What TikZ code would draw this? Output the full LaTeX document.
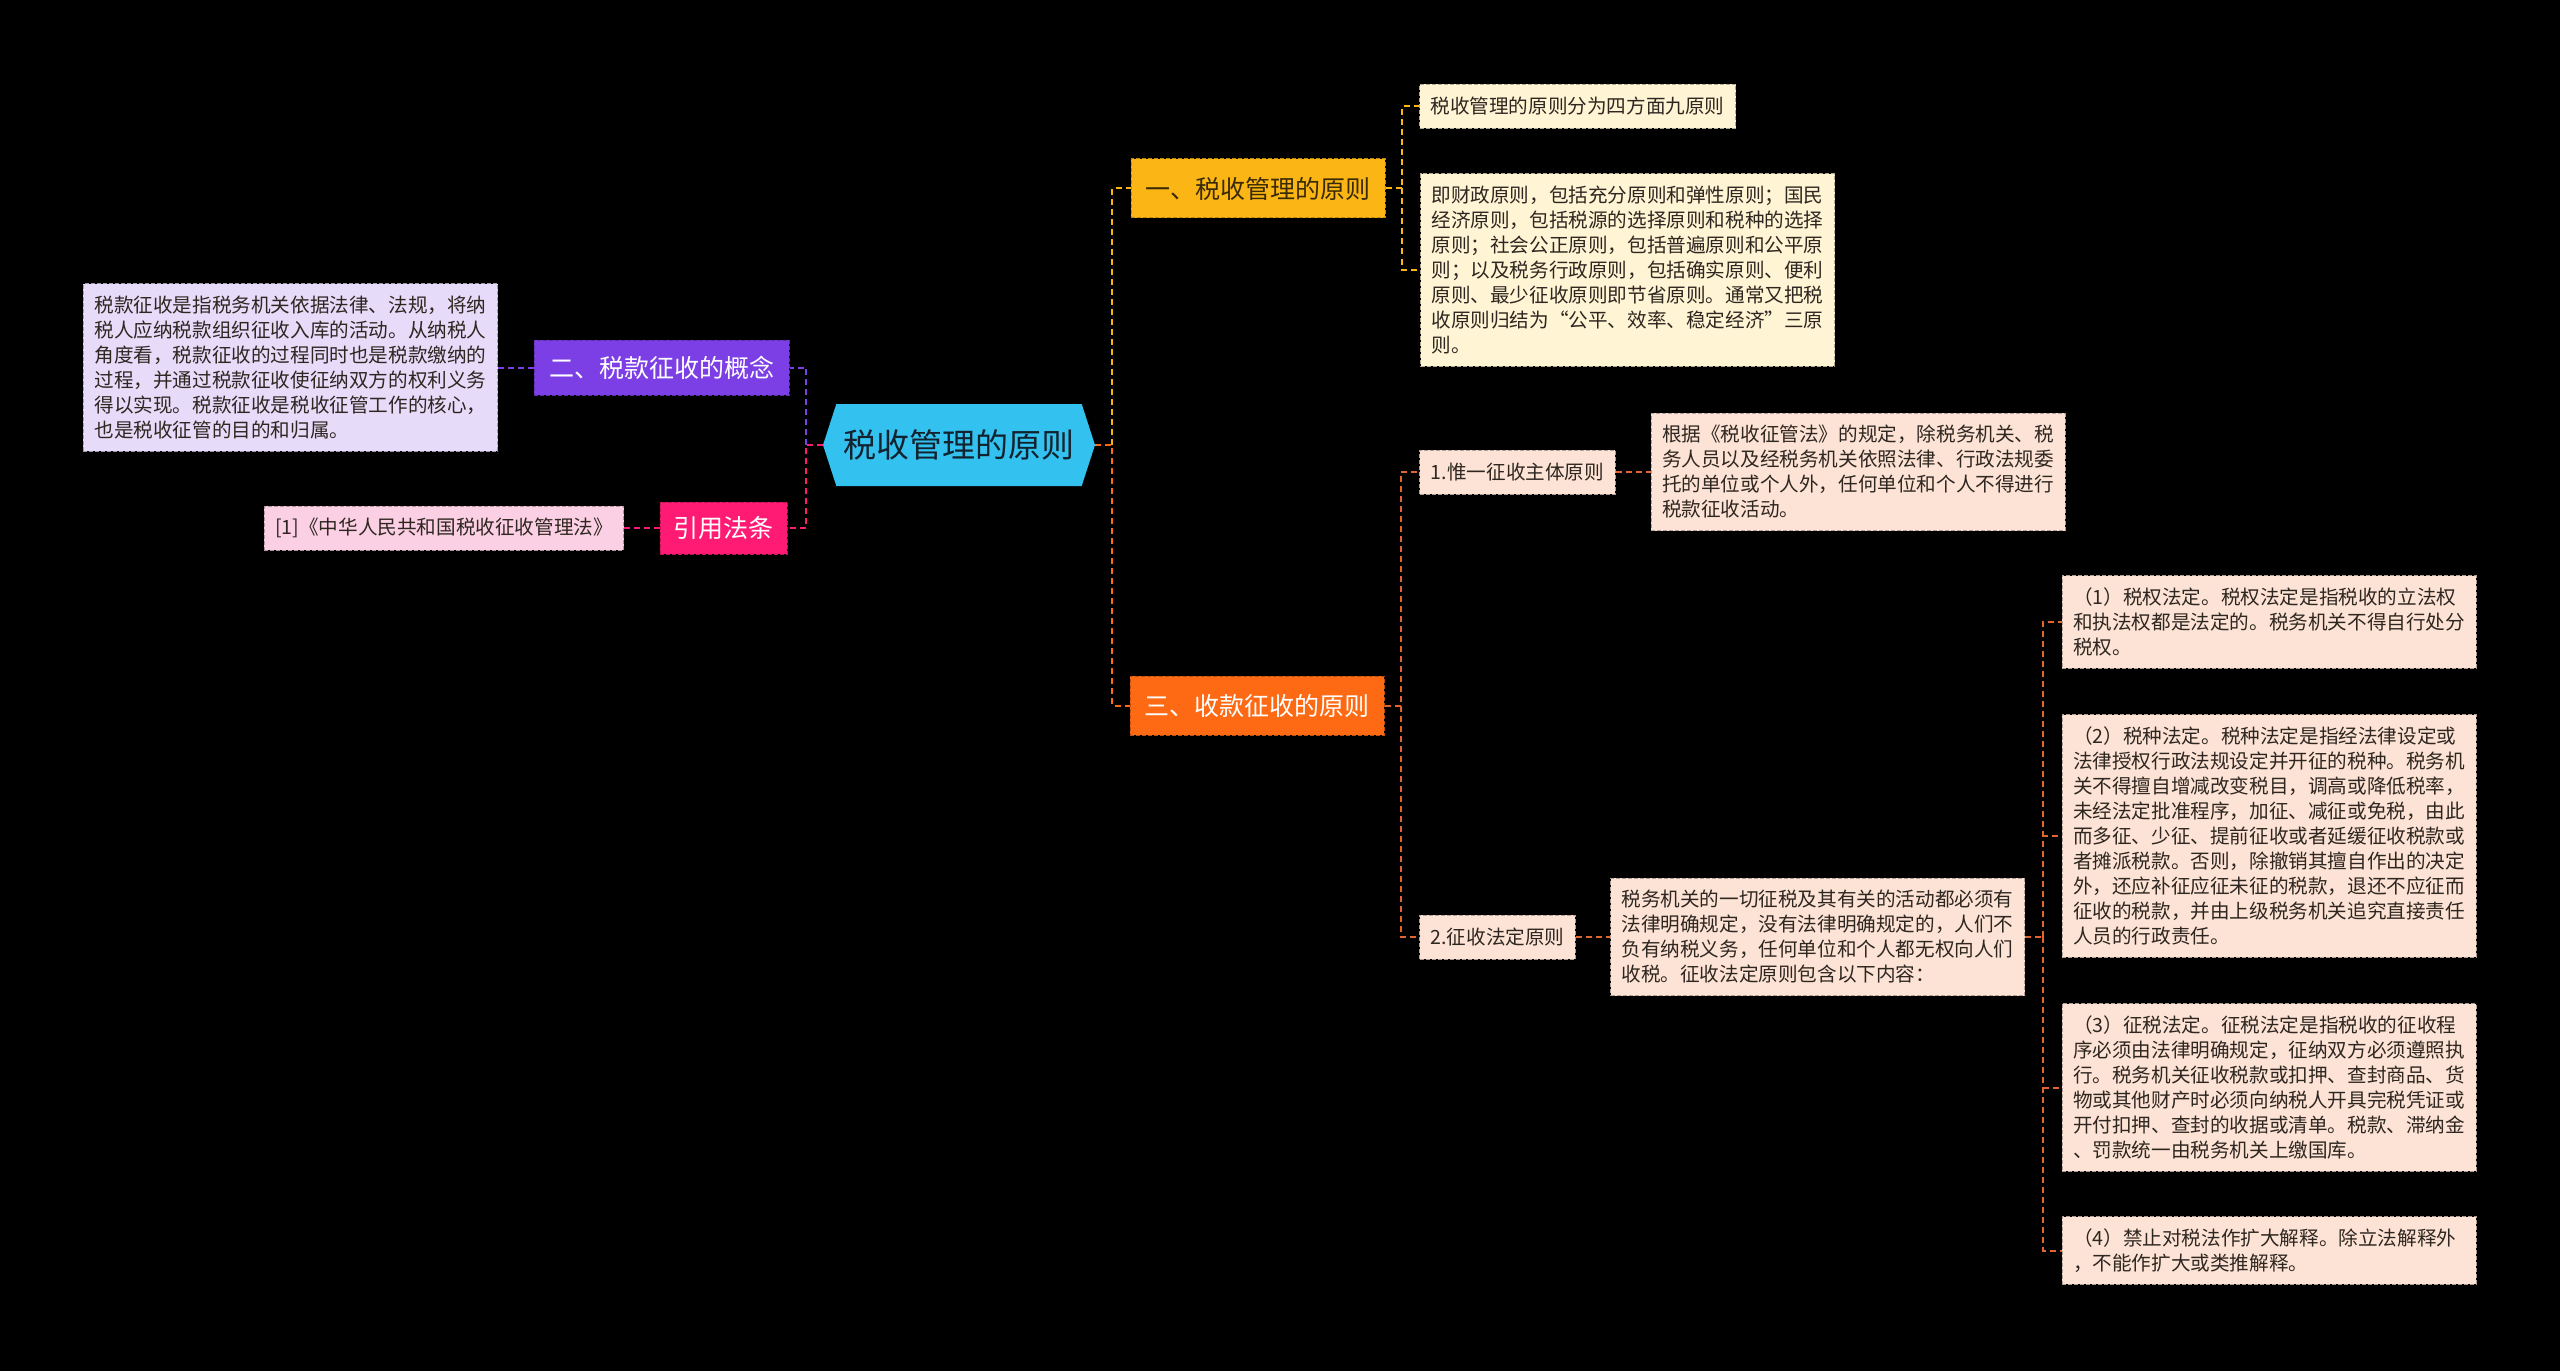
\documentclass[tikz,border=0pt]{standalone}
\usepackage{fontspec}
\setmainfont{Noto Sans CJK SC}
\usetikzlibrary{shapes.symbols}

\definecolor{rootblue}{HTML}{33C1F0}
\definecolor{rootink}{HTML}{12222E}
\definecolor{gold}{HTML}{FBB615}
\definecolor{goldink}{HTML}{3A2A05}
\definecolor{cream}{HTML}{FFF4D4}
\definecolor{purplebox}{HTML}{7C3FE6}
\definecolor{lavender}{HTML}{E7DBFA}
\definecolor{rose}{HTML}{FF1B74}
\definecolor{pinkleaf}{HTML}{FCD0E4}
\definecolor{orangebox}{HTML}{FE6A14}
\definecolor{peach}{HTML}{FDE3D5}
\definecolor{rustline}{HTML}{E2652E}
\definecolor{leafink}{HTML}{2E2620}

\tikzset{
  rootnode/.style={shape=signal, signal to=east and west, signal pointer angle=144,
    fill=rootblue, text=rootink, minimum width=272bp, minimum height=82bp,
    inner sep=0pt, font=\fontsize{33bp}{38bp}\selectfont},
  topic/.style={fill=#1, draw=#1!75!black, dash pattern=on 4bp off 2bp, line width=1bp,
    minimum height=57bp, inner xsep=12bp, font=\fontsize{25bp}{30bp}\selectfont},
  leaf/.style={fill=#1, draw=#1!70!black, dash pattern=on 4bp off 2bp, line width=1bp,
    inner xsep=11bp, inner ysep=12bp, minimum height=44bp, align=left, text=leafink,
    font=\fontsize{19.6bp}{25bp}\selectfont},
  link/.style={draw=#1, dash pattern=on 6bp off 4bp, line width=2bp}
}

\begin{document}
\begin{tikzpicture}[x=1bp,y=-1bp]
  \fill[black] (0,0) rectangle (2560,1371);
  \useasboundingbox (0,0) rectangle (2560,1371);

  \node[rootnode] (root) at (959,445) {税收管理的原则};

  % right side
  \node[topic=gold, text=goldink, minimum width=254bp, minimum height=59bp] (tax) at (1258,188.5) {一、税收管理的原则};
  \node[leaf=cream] (taxa) at (1577.5,106.5) {税收管理的原则分为四方面九原则};
  \node[leaf=cream, text width=392bp] (taxb) at (1627.5,270) {即财政原则，包括充分原则和弹性原则；国民\\经济原则，包括税源的选择原则和税种的选择\\原则；社会公正原则，包括普遍原则和公平原\\则；以及税务行政原则，包括确实原则、便利\\原则、最少征收原则即节省原则。通常又把税\\收原则归结为“公平、效率、稳定经济”三原\\则。};

  \node[topic=orangebox, text=white, minimum width=254bp, minimum height=59bp] (collect) at (1257,705.5) {三、收款征收的原则};
  \node[leaf=peach] (sole) at (1517.5,472) {1.惟一征收主体原则};
  \node[leaf=peach, text width=392bp] (soletext) at (1858,472) {根据《税收征管法》的规定，除税务机关、税\\务人员以及经税务机关依照法律、行政法规委\\托的单位或个人外，任何单位和个人不得进行\\税款征收活动。};
  \node[leaf=peach] (legal) at (1497.5,937) {2.征收法定原则};
  \node[leaf=peach, text width=392bp] (legaltext) at (1817.5,937) {税务机关的一切征税及其有关的活动都必须有\\法律明确规定，没有法律明确规定的，人们不\\负有纳税义务，任何单位和个人都无权向人们\\收税。征收法定原则包含以下内容：};
  \node[leaf=peach, text width=392bp] (item1) at (2269,622) {（1）税权法定。税权法定是指税收的立法权\\和执法权都是法定的。税务机关不得自行处分\\税权。};
  \node[leaf=peach, text width=392bp] (item2) at (2269,836) {（2）税种法定。税种法定是指经法律设定或\\法律授权行政法规设定并开征的税种。税务机\\关不得擅自增减改变税目，调高或降低税率，\\未经法定批准程序，加征、减征或免税，由此\\而多征、少征、提前征收或者延缓征收税款或\\者摊派税款。否则，除撤销其擅自作出的决定\\外，还应补征应征未征的税款，退还不应征而\\征收的税款，并由上级税务机关追究直接责任\\人员的行政责任。};
  \node[leaf=peach, text width=392bp] (item3) at (2269,1087.5) {（3）征税法定。征税法定是指税收的征收程\\序必须由法律明确规定，征纳双方必须遵照执\\行。税务机关征收税款或扣押、查封商品、货\\物或其他财产时必须向纳税人开具完税凭证或\\开付扣押、查封的收据或清单。税款、滞纳金\\、罚款统一由税务机关上缴国库。};
  \node[leaf=peach, text width=392bp] (item4) at (2269,1250.5) {（4）禁止对税法作扩大解释。除立法解释外\\，不能作扩大或类推解释。};

  % left side
  \node[topic=purplebox, text=white, minimum width=255bp, minimum height=55bp] (concept) at (661.5,367.5) {二、税款征收的概念};
  \node[leaf=lavender, text width=392bp] (concepttext) at (290.5,367.5) {税款征收是指税务机关依据法律、法规，将纳\\税人应纳税款组织征收入库的活动。从纳税人\\角度看，税款征收的过程同时也是税款缴纳的\\过程，并通过税款征收使征纳双方的权利义务\\得以实现。税款征收是税收征管工作的核心，\\也是税收征管的目的和归属。};
  \node[topic=rose, text=white, minimum width=127bp, minimum height=52bp] (law) at (723.5,528) {引用法条};
  \node[leaf=pinkleaf] (lawref) at (444,528) {[1]《中华人民共和国税收征收管理法》};

  % connectors
  \coordinate (rj) at (1112,445);
  \coordinate (lj) at (806,445);
  \coordinate (tj) at (1402,188.5);
  \coordinate (cj) at (1401,705.5);
  \coordinate (qj) at (2043,937);
  \draw[link=orangebox] (root.east) -- (rj) |- (collect.west);
  \draw[link=gold] (rj) |- (tax.west);
  \draw[link=rose] (root.west) -- (lj) |- (law.east);
  \draw[link=purplebox] (lj) |- (concept.east);
  \draw[link=purplebox] (concept.west) -- (concepttext.east);
  \draw[link=rose] (law.west) -- (lawref.east);
  \draw[link=gold] (tax.east) -- (tj) |- (taxa.west);
  \draw[link=gold] (tj) |- (taxb.west);
  \draw[link=rustline] (collect.east) -- (cj) |- (sole.west);
  \draw[link=rustline] (cj) |- (legal.west);
  \draw[link=rustline] (sole.east) -- (soletext.west);
  \draw[link=rustline] (legal.east) -- (legaltext.west);
  \draw[link=rustline] (legaltext.east) -- (qj);
  \foreach \n in {item1,item2,item3,item4} { \draw[link=rustline] (qj) |- (\n.west); }
\end{tikzpicture}
\end{document}
